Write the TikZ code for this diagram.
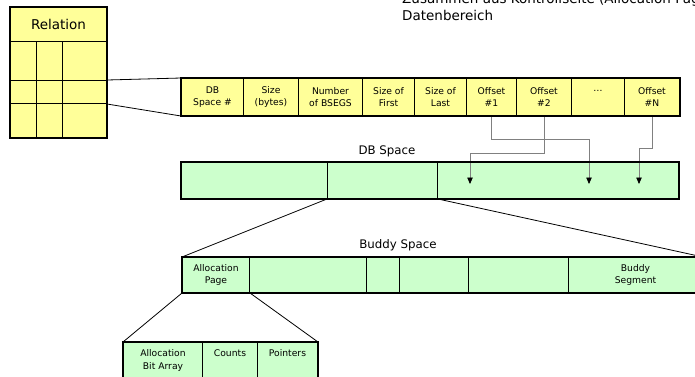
\documentclass[tikz,border=0pt]{standalone}
\usepackage{fontspec}
\setmainfont{DejaVu Sans}
\usetikzlibrary{arrows.meta}
\definecolor{relyellow}{HTML}{FFFF99}
\definecolor{spacegreen}{HTML}{CCFFCC}

\begin{document}
\begin{tikzpicture}[x=1pt,y=-1pt,
cell/.style={
	rectangle,draw=black,line width=1pt,inner sep=0pt,anchor=north west,
	align=center,font=\fontsize{9.2}{12}\selectfont},
ycell/.style={cell,fill=relyellow},
gcell/.style={cell,fill=spacegreen},
frame/.style={draw=black,line width=2pt},
ptr/.style={draw=gray,line width=0.8pt,-{Triangle[color=black,length=6.5pt,width=5.5pt]}},
zoomline/.style={draw=black,line width=0.8pt},
title/.style={font=\fontsize{11.8}{14}\selectfont}
]
\useasboundingbox (0,0) rectangle (695,376);
\clip (0,0) rectangle (695,376);

% header text (cut at the page edge)
\node[anchor=base west,align=left,inner sep=0pt,font=\fontsize{13.5}{16.5}\selectfont] (hdr) at (402,20)
	{Zusammen aus Kontrollseite (Allocation Page) und\\Datenbereich};

% relation
\node[ycell,minimum width=96,minimum height=34,font=\fontsize{13.5}{16}\selectfont] (rel) at (10,7) {Relation};
\foreach \ya/\yb [count=\r] in {41/80,80/103,103/137}
	\foreach \xa/\xb [count=\c] in {10/36,36/62,62/106}
		\node[ycell,minimum width={\xb-\xa},minimum height={\yb-\ya}] (rel-\r-\c) at (\xa,\ya) {};

% tuple fields
\foreach \xa/\xb/\txt [count=\i] in {181/243/{DB\\Space \#},243/298/{Size\\(bytes)},
	298/362/{Number\\of BSEGS},362/414/{Size of\\First},414/466/{Size of\\Last},
	466/516/{Offset\\\#1},516/571/{Offset\\\#2},571/624/{\dots\\\phantom{\#}},624/679/{Offset\\\#N}}
	\node[ycell,minimum width={\xb-\xa},minimum height=37] (fld\i) at (\xa,78) {\txt};

% DB space
\node[title] (dblbl) at (387,151) {DB Space};
\foreach \xa/\xb [count=\i] in {181/327,327/437,437/678}
	\node[gcell,minimum width={\xb-\xa},minimum height=36] (db\i) at (\xa,162) {};
\coordinate (tip1) at (470,184);
\coordinate (tip2) at (589,184);
\coordinate (tip3) at (639,184);

% buddy space
\node[title] (budlbl) at (398,245) {Buddy Space};
\foreach \xa/\xb/\txt [count=\i] in {182/249/{Allocation\\Page},249/366/{},366/399/{},
	399/468/{},468/568/{},568/702/{Buddy\\Segment}}
	\node[gcell,minimum width={\xb-\xa},minimum height=35] (bud\i) at (\xa,257) {\txt};

% allocation page
\foreach \xa/\xb/\txt [count=\i] in {123/202/{Allocation\\Bit Array},202/257/{Counts},257/317/{Pointers}}
{
	\node[gcell,minimum width={\xb-\xa},minimum height=45] (pg\i) at (\xa,342) {};
	\node[cell,anchor=north,draw=none,font=\fontsize{9.2}{13}\selectfont] (pgt\i) at ([yshift=-7pt]pg\i.north) {\txt};
}

% offsets
\draw[ptr] (fld6.south) -- ++(0,23) -| (tip2);
\draw[ptr] (fld7.south) -- ++(0,37) -| (tip1);
\draw[ptr] (fld9.south) -- ++(0,32) -| (tip3);

% zoom lines
\draw[zoomline] (rel-2-3.north east) -- (fld1.north west);
\draw[zoomline] (rel-2-3.south east) -- (fld1.south west);
\draw[zoomline] (db2.south west) -- (bud1.north west);
\draw[zoomline] (db2.south east) -- (bud6.north east);
\draw[zoomline] (bud1.south west) -- (pg1.north west);
\draw[zoomline] (bud1.south east) -- (pg3.north east);

% frames
\draw[frame] (rel.north west) rectangle (rel-3-3.south east);
\draw[frame] (fld1.north west) rectangle (fld9.south east);
\draw[frame] (db1.north west) rectangle (db3.south east);
\draw[frame] (bud1.north west) rectangle (bud6.south east);
\draw[frame] (pg1.north west) rectangle (pg3.south east);

\end{tikzpicture}
\end{document}
